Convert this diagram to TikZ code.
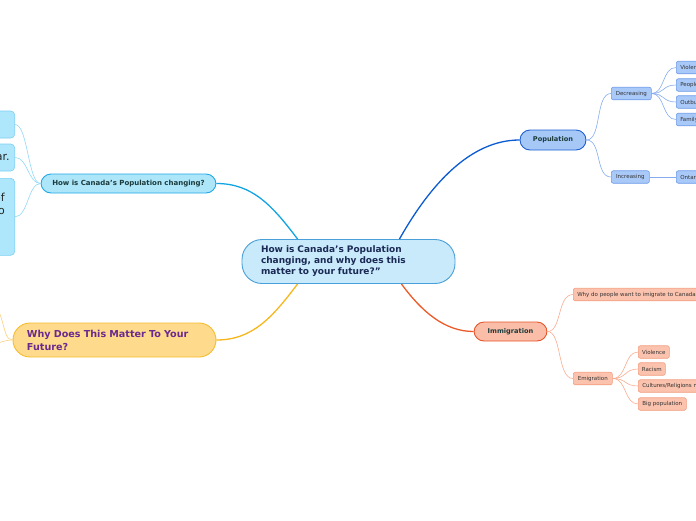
\documentclass[tikz,border=0pt]{standalone}
\usepackage{fontspec}
\setmainfont{DejaVu Sans}
\usepackage{xcolor}
\usepackage{tikz}
\usetikzlibrary{positioning}
\definecolor{centerfill}{HTML}{C8EAFB}
\definecolor{centerdraw}{HTML}{4A9FD8}
\definecolor{centertext}{HTML}{1B2A55}
\definecolor{popfill}{HTML}{A6C8F7}
\definecolor{popdraw}{HTML}{1F5FD0}
\definecolor{popline}{HTML}{0B5BD3}
\definecolor{popsubfill}{HTML}{A9C9F9}
\definecolor{popsubdraw}{HTML}{6C9BE8}
\definecolor{popsubline}{HTML}{86ACEE}
\definecolor{immfill}{HTML}{F9BDA8}
\definecolor{immdraw}{HTML}{E8542A}
\definecolor{immline}{HTML}{EC5A2A}
\definecolor{immsubfill}{HTML}{FBC3AE}
\definecolor{immsubdraw}{HTML}{F39C7E}
\definecolor{immsubline}{HTML}{F8AC90}
\definecolor{chgfill}{HTML}{ADE5F9}
\definecolor{chgdraw}{HTML}{22A8E6}
\definecolor{chgline}{HTML}{14A3E2}
\definecolor{chgsubfill}{HTML}{AEE6FB}
\definecolor{chgsubdraw}{HTML}{7BD0F5}
\definecolor{chgsubline}{HTML}{92DAF5}
\definecolor{whyfill}{HTML}{FDDA8C}
\definecolor{whydraw}{HTML}{F6BC30}
\definecolor{whyline}{HTML}{F7B61C}
\definecolor{whysubline}{HTML}{F9D27A}
\definecolor{whytext}{HTML}{6A2A8E}
\definecolor{topictext}{HTML}{1B3B3B}

\begin{document}
\begin{tikzpicture}[x=1pt, y=-1pt]
  % Styles
  \tikzstyle{topic} = [rectangle, rounded corners=10pt, inner sep=0pt, line width=0.9pt, font=\bfseries\fontsize{6.6}{8}\selectfont, text=topictext]
  \tikzstyle{leaf} = [rectangle, rounded corners=2pt, inner xsep=4pt, inner ysep=0pt, minimum height=12.5pt, line width=0.6pt, font=\fontsize{5.5}{6.5}\selectfont, text=black!80, anchor=west]
  \tikzstyle{factbox} = [rectangle, rounded corners=4pt, draw=chgsubdraw, fill=chgsubfill, line width=0.6pt, minimum width=200pt, anchor=east]
  \tikzstyle{link} = [line width=1.3pt]
  \tikzstyle{twig} = [line width=0.6pt]

  \useasboundingbox (0,0) rectangle (696,520);
  \clip (0,0) rectangle (696,520);

  % Central topic
  \node[rectangle, rounded corners=20pt, draw=centerdraw, fill=centerfill, line width=0.9pt,
        minimum width=213pt, minimum height=44pt, inner xsep=19pt, text width=175pt, align=left,
        font=\bfseries\fontsize{9}{11}\selectfont, text=centertext] (center) at (348.5,261.5)
        {How is Canada’s Population\\changing, and why does this\\matter to your future?”};

  % Main topics
  \node[topic, draw=popdraw, fill=popfill, minimum width=66pt, minimum height=20pt] (pop) at (553,140) {Population};
  \node[topic, draw=immdraw, fill=immfill, minimum width=73pt, minimum height=19pt] (imm) at (510.5,331.5) {Immigration};
  \node[topic, draw=chgdraw, fill=chgfill, minimum width=175pt, minimum height=19pt,
        font=\bfseries\fontsize{7}{8}\selectfont] (chg) at (128.5,183.5) {How is Canada's Population changing?};
  \node[topic, rounded corners=17pt, draw=whydraw, fill=whyfill, minimum width=203pt, minimum height=34pt,
        inner xsep=14pt, text width=175pt, align=left, text=whytext,
        font=\bfseries\fontsize{9.6}{13}\selectfont] (why) at (114.5,340) {Why Does This Matter To Your\\Future?};

  % Population
  \node[leaf, draw=popsubdraw, fill=popsubfill, minimum width=40pt, inner xsep=0pt] (dec) at (611,93.5) {Decreasing};
  \node[leaf, draw=popsubdraw, fill=popsubfill, minimum width=38pt, inner xsep=0pt] (inc) at (611,177) {Increasing};
  \node[leaf, draw=popsubdraw, fill=popsubfill] (viol) at (676,67.5) {Violence};
  \node[leaf, draw=popsubdraw, fill=popsubfill] (people) at (676,85) {People};
  \node[leaf, draw=popsubdraw, fill=popsubfill] (outb) at (676,102) {Outbursts};
  \node[leaf, draw=popsubdraw, fill=popsubfill] (family) at (676,119.5) {Family};
  \node[leaf, draw=popsubdraw, fill=popsubfill] (ont) at (676,177) {Ontario};

  % Immigration
  \node[leaf, draw=immsubdraw, fill=immsubfill] (whyimm) at (573,294.5) {Why do people want to imigrate to Canada?};
  \node[leaf, draw=immsubdraw, fill=immsubfill, minimum width=39pt, inner xsep=0pt] (emi) at (573,378.5) {Emigration};
  \node[leaf, draw=immsubdraw, fill=immsubfill, minimum width=31pt, inner xsep=0pt] (eviol) at (638,352) {Violence};
  \node[leaf, draw=immsubdraw, fill=immsubfill, minimum width=27pt, inner xsep=0pt] (racism) at (638,369) {Racism};
  \node[leaf, draw=immsubdraw, fill=immsubfill] (cult) at (638,386) {Cultures/Religions not accepted};
  \node[leaf, draw=immsubdraw, fill=immsubfill, minimum width=48pt, inner xsep=0pt] (bigpop) at (638,404) {Big population};

  % Population changing (cut off at the left edge)
  \node[factbox, minimum height=27pt] (fact1) at (15,124.5) {};
  \node[factbox, minimum height=27pt, inner xsep=5pt, text width=190pt, align=right,
        font=\fontsize{11}{13}\selectfont, text=black!85] (fact2) at (15,157.5) {It grows a little every year.};
  \node[factbox, minimum height=77pt, anchor=north east] (fact3) at (15,178) {};
  \node[anchor=north east, inner sep=0pt, align=right, font=\fontsize{11}{13}\selectfont, text=black!85]
        (fact3txt) at (5,193) {Most growth comes from people of\\other countries who move to};

  % Why it matters (cut off at the left edge)
  \coordinate (whyup) at (-20,290);
  \coordinate (whyleft) at (-20,346);

  % Main connectors
  \draw[link, popline] (center.north east) ++(-56,0) coordinate (cpop)
        .. controls (430,185) and (470,140) .. (pop.west);
  \draw[link, immline] (center.south east) ++(-54,0) coordinate (cimm)
        .. controls (422,312) and (445,331.5) .. (imm.west);
  \draw[link, chgline] (center.north west) ++(56,0) coordinate (cchg)
        .. controls (272,205) and (252,183.5) .. (chg.east);
  \draw[link, whyline] (center.south west) ++(56,0) coordinate (cwhy)
        .. controls (272,318) and (252,340) .. (why.east);

  % Population branches
  \draw[twig, popsubline] (pop.east) .. controls (602,140) and (595,93.5) .. (dec.west);
  \draw[twig, popsubline] (pop.east) .. controls (602,140) and (595,177) .. (inc.west);
  \foreach \leafnode in {viol, people, outb, family}
    \draw[twig, popsubline] (dec.east) .. controls (665,93.5) and (662,0|-\leafnode.west) .. (\leafnode.west);
  \draw[twig, popsubline] (inc.east) -- (ont.west);

  % Immigration branches
  \draw[twig, immsubline] (imm.east) .. controls (562,331.5) and (557,294.5) .. (whyimm.west);
  \draw[twig, immsubline] (imm.east) .. controls (562,331.5) and (557,378.5) .. (emi.west);
  \foreach \leafnode in {eviol, racism, cult, bigpop}
    \draw[twig, immsubline] (emi.east) .. controls (627,378.5) and (624,0|-\leafnode.west) .. (\leafnode.west);

  % Population changing branches
  \foreach \leafnode in {fact1, fact2, fact3}
    \draw[twig, chgsubline] (chg.west) .. controls (28,183.5) and (28,0|-\leafnode.center) .. (15,0|-\leafnode.center);

  % Why branches
  \draw[twig, whysubline] (why.west) .. controls (0,340) and (8,305) .. (whyup);
  \draw[twig, whysubline] (why.west) .. controls (2,340) and (-5,346) .. (whyleft);
\end{tikzpicture}
\end{document}
